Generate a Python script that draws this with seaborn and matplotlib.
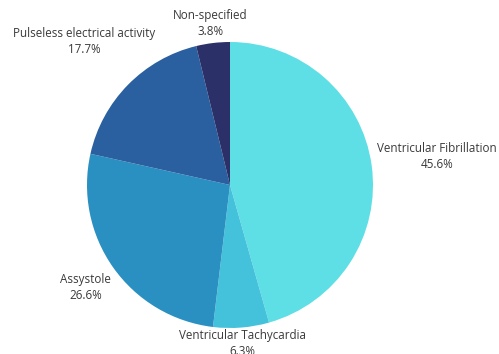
import numpy as np
import matplotlib
matplotlib.use("Agg")
import matplotlib.pyplot as plt
import seaborn as sns

categories = ["Ventricular Fibrillation", "Ventricular Tachycardia", "Assystole",
              "Pulseless electrical activity", "Non-specified"]
shares = [45.6, 6.3, 26.6, 17.7, 3.8]
colors = ["#5ddfe5", "#44c2dc", "#2a90c1", "#2a609f", "#2b3068"]
label_dist = [1.46, 1.11, 1.235, 1.43, 1.135]

sns.set_theme(style="white")
plt.rcParams["font.family"] = ["Open Sans", "DejaVu Sans"]

W, H = 499, 354
fig = plt.figure(figsize=(W / 100, H / 100), dpi=100)
cx, cy, r = 230, 169, 143
ax = fig.add_axes([(cx - r) / W, (cy - r) / H, 2 * r / W, 2 * r / H])

wedges, _ = ax.pie(shares, colors=colors, startangle=90, counterclock=False,
                   radius=1.0, wedgeprops=dict(linewidth=0))

# two-line labels placed along each wedge's bisector
for w, name, val, d in zip(wedges, categories, shares, label_dist):
    mid = np.deg2rad((w.theta1 + w.theta2) / 2)
    x, y = d * np.cos(mid), d * np.sin(mid)
    ax.text(x, y, f"{name}\n{val:.1f}%", ha="center", va="center",
            fontsize=8.4, color="#3a3a3a", linespacing=1.3, clip_on=False)

ax.set_xlim(-1, 1)
ax.set_ylim(-1, 1)
ax.set_aspect("equal")
ax.axis("off")
fig.savefig("out.png", dpi=100, facecolor="white")
